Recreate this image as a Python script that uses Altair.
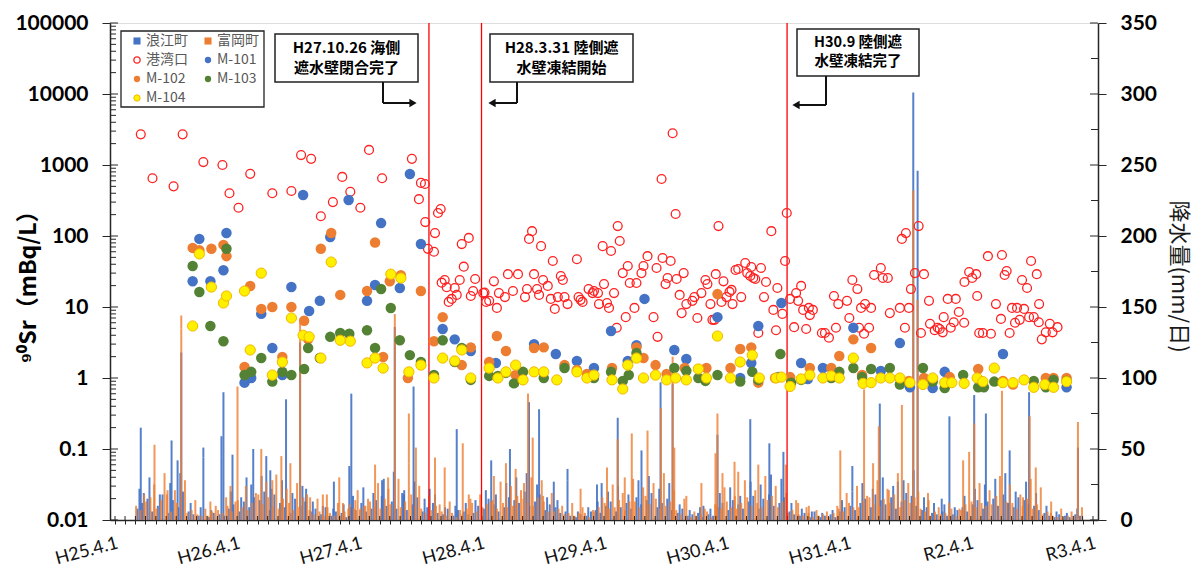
import altair as alt
import pandas as pd

# ---------------- tick labels / categories ----------------
x_tick_labels = ["H25.4.1", "H26.4.1", "H27.4.1", "H28.4.1", "H29.4.1",
                 "H30.4.1", "H31.4.1", "R2.4.1", "R3.4.1"]
y_tick_values = [0.01, 0.1, 1, 10, 100, 1000, 10000, 100000]
y_tick_labels = ["0.01", "0.1", "1", "10", "100", "1000", "10000", "100000"]
rain_tick_values = [0, 50, 100, 150, 200, 250, 300, 350]
series_names = ["浪江町", "富岡町", "港湾口", "M-101", "M-102", "M-103", "M-104"]
event_dates = ["2015-10-26", "2016-03-31", "2018-09-30"]
event_texts = [["H27.10.26 海側", "遮水壁閉合完了"],
               ["H28.3.31 陸側遮", "水壁凍結開始"],
               ["H30.9 陸側遮", "水壁凍結完了"]]

# ---------------- 90Sr (mBq/L) ----------------
harbor = [
    ("2013-06-17", 2700), ("2013-07-22", 650), ("2013-09-23", 500), ("2013-10-20", 2700),
    ("2013-12-21", 1100), ("2014-02-16", 1000), ("2014-03-09", 400), ("2014-04-05", 250),
    ("2014-05-10", 750), ("2014-07-15", 400), ("2014-09-10", 430), ("2014-10-09", 1380),
    ("2014-11-08", 1220), ("2014-12-07", 190), ("2015-01-12", 300), ("2015-02-09", 680),
    ("2015-03-05", 420), ("2015-04-04", 250), ("2015-04-30", 1630), ("2015-06-08", 650),
    ("2015-09-05", 1220), ("2015-09-26", 330), ("2015-10-02", 560), ("2015-10-14", 540),
    ("2015-10-15", 157), ("2015-10-23", 66), ("2015-11-10", 60), ("2015-11-13", 110),
    ("2015-11-22", 211), ("2015-11-30", 240), ("2015-12-03", 22), ("2015-12-12", 24),
    ("2015-12-18", 19), ("2015-12-24", 11.8), ("2016-01-02", 13), ("2016-01-11", 18.5),
    ("2016-01-17", 14.8), ("2016-01-26", 24), ("2016-02-01", 77), ("2016-02-07", 37),
    ("2016-02-22", 94), ("2016-02-28", 14.3), ("2016-03-06", 16.8), ("2016-03-12", 24.8),
    ("2016-04-05", 15.7), ("2016-04-09", 16), ("2016-04-14", 11.8), ("2016-04-23", 12.2),
    ("2016-05-07", 23), ("2016-05-16", 9.7), ("2016-05-22", 15.7), ("2016-06-09", 13.8),
    ("2016-06-18", 29), ("2016-07-03", 16.8), ("2016-07-18", 29), ("2016-08-08", 13.8),
    ("2016-08-14", 17.9), ("2016-08-20", 91), ("2016-08-29", 117), ("2016-09-04", 29),
    ("2016-09-13", 17.9), ("2016-09-19", 14.8), ("2016-09-25", 72), ("2016-10-01", 24),
    ("2016-10-15", 19.8), ("2016-10-24", 13), ("2016-10-30", 44.5), ("2016-11-05", 9.4),
    ("2016-11-14", 13.8), ("2016-11-23", 27.3), ("2016-11-29", 24), ("2016-12-04", 13.8),
    ("2016-12-13", 11), ("2017-01-10", 47), ("2017-01-15", 13.8), ("2017-01-21", 12.6),
    ("2017-01-27", 11.8), ("2017-02-14", 17.9), ("2017-02-26", 15.7), ("2017-03-02", 16.8),
    ("2017-03-14", 15.7), ("2017-03-17", 11), ("2017-03-28", 72), ("2017-04-01", 21),
    ("2017-04-10", 11.4), ("2017-04-16", 9.7), ("2017-04-22", 61.5), ("2017-05-01", 15.7),
    ("2017-05-09", 5.1), ("2017-05-12", 138), ("2017-05-18", 85), ("2017-05-27", 30),
    ("2017-06-05", 7.2), ("2017-06-11", 37.8), ("2017-06-17", 21.8), ("2017-07-01", 9.7),
    ("2017-07-07", 21.8), ("2017-07-22", 30), ("2017-07-28", 37.8), ("2017-08-09", 52),
    ("2017-08-27", 7.2), ("2017-09-05", 35.4), ("2017-09-08", 3.8), ("2017-09-20", 635),
    ("2017-09-23", 49), ("2017-10-02", 21), ("2017-10-08", 25.6), ("2017-10-17", 44.5),
    ("2017-10-23", 2800), ("2017-11-01", 204), ("2017-11-04", 24.8), ("2017-11-13", 14.8),
    ("2017-11-19", 8.2), ("2017-11-25", 30), ("2017-12-03", 11), ("2017-12-21", 12.2),
    ("2017-12-27", 13.8), ("2018-01-05", 7), ("2018-01-17", 15.7), ("2018-01-29", 24),
    ("2018-02-04", 21), ("2018-02-13", 11), ("2018-02-19", 6.6), ("2018-02-25", 6.6),
    ("2018-03-01", 29), ("2018-03-09", 138), ("2018-03-18", 11.8), ("2018-03-24", 23),
    ("2018-04-02", 13.8), ("2018-04-11", 16.3), ("2018-04-17", 17.4), ("2018-04-20", 11),
    ("2018-04-29", 33.2), ("2018-05-07", 34.3), ("2018-05-16", 13.8), ("2018-05-28", 41.7),
    ("2018-06-03", 30), ("2018-06-12", 27.3), ("2018-06-15", 36.6), ("2018-06-21", 25.6),
    ("2018-06-27", 24.8), ("2018-07-06", 4.3), ("2018-07-14", 35.4), ("2018-07-23", 13.8),
    ("2018-07-29", 22.5), ("2018-08-14", 117), ("2018-08-20", 9.1), ("2018-08-28", 4.7),
    ("2018-09-01", 18.5), ("2018-09-16", 8), ("2018-09-24", 44.5), ("2018-09-29", 211),
    ("2018-10-09", 13), ("2018-10-21", 5.2), ("2018-10-27", 15.7), ("2018-11-02", 12.2),
    ("2018-11-11", 19.8), ("2018-11-17", 9.1), ("2018-11-26", 4.9), ("2018-12-04", 9.7),
    ("2018-12-07", 7.7), ("2018-12-16", 9.1), ("2019-01-12", 4.3), ("2019-01-21", 4.3),
    ("2019-02-02", 3.7), ("2019-02-17", 14.3), ("2019-02-23", 5.1), ("2019-03-02", 11),
    ("2019-03-28", 12.2), ("2019-04-04", 7), ("2019-04-13", 24), ("2019-04-28", 17.9),
    ("2019-05-03", 5.1), ("2019-05-09", 9.7), ("2019-05-18", 4.2), ("2019-05-21", 11),
    ("2019-06-02", 5.1), ("2019-06-08", 9.7), ("2019-06-17", 28.2), ("2019-07-07", 35.4),
    ("2019-07-13", 25.6), ("2019-07-28", 25.6), ("2019-08-03", 8.2), ("2019-09-02", 9.7),
    ("2019-09-08", 91), ("2019-09-17", 5.1), ("2019-09-20", 110), ("2019-09-29", 9.7),
    ("2019-10-05", 17.9), ("2019-10-17", 30), ("2019-10-28", 138), ("2019-11-04", 4.3),
    ("2019-11-13", 29), ("2019-11-28", 12.2), ("2019-12-01", 5.8), ("2019-12-15", 4.7),
    ("2019-12-24", 5.1), ("2019-12-30", 4.9), ("2020-01-08", 4.4), ("2020-01-11", 7.2),
    ("2020-01-23", 13), ("2020-02-01", 5.1), ("2020-02-10", 6.1), ("2020-02-16", 13),
    ("2020-02-25", 8.5), ("2020-03-12", 6), ("2020-03-13", 22.5), ("2020-03-27", 31.1),
    ("2020-04-05", 25.6), ("2020-04-17", 29), ("2020-04-20", 14.3), ("2020-04-26", 4.3),
    ("2020-05-07", 4.3), ("2020-05-22", 52), ("2020-05-31", 4.2), ("2020-06-15", 11),
    ("2020-06-30", 6.8), ("2020-07-03", 54), ("2020-07-11", 28.2), ("2020-07-17", 32.1),
    ("2020-07-26", 4.3), ("2020-08-02", 9.7), ("2020-08-11", 6), ("2020-08-17", 9.7),
    ("2020-08-25", 6.6), ("2020-09-01", 24), ("2020-09-07", 9.4), ("2020-09-16", 18.5),
    ("2020-09-22", 7.2), ("2020-09-28", 44.5), ("2020-10-06", 7.2), ("2020-10-15", 29),
    ("2020-10-21", 6.1), ("2020-10-22", 11), ("2020-10-30", 3.5), ("2020-11-11", 4.4),
    ("2020-11-23", 5.8), ("2020-12-01", 4.4), ("2020-12-16", 5.2),
]

m101 = [
    ("2013-11-19", 23), ("2013-12-09", 91), ("2014-01-11", 23), ("2014-02-19", 33),
    ("2014-02-28", 110), ("2014-04-23", 0.86), ("2014-05-13", 1.0), ("2014-06-12", 8),
    ("2014-07-15", 2.65), ("2014-08-14", 1.1), ("2014-09-10", 19.1), ("2014-10-15", 378),
    ("2014-11-02", 8.8), ("2014-12-04", 12.2), ("2015-01-04", 97), ("2015-02-28", 321),
    ("2015-04-24", 12.2), ("2015-05-18", 20.4), ("2015-06-05", 152), ("2015-07-31", 18.5),
    ("2015-08-30", 747), ("2015-10-02", 77), ("2015-12-06", 4.9), ("2016-01-11", 3.5),
    ("2016-02-28", 2.4), ("2016-05-13", 1.63), ("2016-09-04", 3.0), ("2016-11-08", 2.18),
    ("2017-01-10", 1.74), ("2017-03-02", 1.38), ("2017-04-22", 4.6), ("2017-06-11", 1.74),
    ("2017-07-07", 2.9), ("2017-07-31", 13), ("2017-10-28", 2.48), ("2017-12-03", 1.85),
    ("2018-03-06", 7.2), ("2018-05-13", 1.0), ("2018-06-15", 1.63), ("2018-07-06", 5.4),
    ("2018-09-04", 1.03), ("2018-09-13", 11.4), ("2018-11-11", 1.63), ("2018-12-01", 0.97),
    ("2019-01-15", 1.38), ("2019-04-16", 5.1), ("2019-07-07", 1.26), ("2019-09-02", 3.1),
    ("2019-10-02", 0.74), ("2019-12-09", 0.72), ("2020-01-14", 1.22), ("2020-07-06", 2.18),
    ("2021-01-12", 0.74),
]

m102 = [
    ("2013-11-19", 68), ("2013-12-09", 63), ("2014-01-14", 66), ("2014-02-19", 75),
    ("2014-02-28", 52), ("2014-04-23", 1.43), ("2014-05-10", 19.8), ("2014-06-12", 9.4),
    ("2014-07-15", 10), ("2014-08-14", 1.98), ("2014-09-10", 10), ("2014-10-18", 6.4),
    ("2014-10-30", 3.5), ("2014-12-07", 66), ("2015-01-07", 110), ("2015-02-03", 14.8),
    ("2015-04-24", 16.8), ("2015-05-18", 81), ("2015-06-11", 1.98), ("2015-07-01", 23),
    ("2015-08-03", 28), ("2015-08-24", 1.0), ("2015-10-02", 16.8), ("2015-11-10", 3.3),
    ("2015-12-06", 7.2), ("2016-02-01", 1.52), ("2016-02-28", 2.7), ("2016-04-23", 1.68),
    ("2016-05-16", 3.9), ("2016-06-12", 2.4), ("2016-07-11", 1.1), ("2016-09-04", 2.65),
    ("2016-10-03", 2.7), ("2016-12-04", 1.52), ("2017-01-10", 1.3), ("2017-02-09", 1.14),
    ("2017-04-25", 1.38), ("2017-07-07", 2.7), ("2017-07-28", 1.91), ("2017-09-02", 1.52),
    ("2017-10-05", 1.14), ("2017-11-28", 1.38), ("2018-02-01", 1.38), ("2018-03-06", 15.2),
    ("2018-04-14", 1.38), ("2018-05-13", 2.56), ("2018-06-15", 2.7), ("2018-07-06", 0.86),
    ("2018-08-25", 1.0), ("2018-10-09", 1.03), ("2018-12-07", 1.38), ("2019-02-09", 1.38),
    ("2019-03-05", 2.04), ("2019-04-16", 3.5), ("2019-05-12", 1.1), ("2019-06-08", 2.65),
    ("2019-09-29", 0.91), ("2019-11-13", 1.0), ("2020-01-29", 1.03), ("2020-04-23", 1.34),
    ("2020-07-06", 0.91), ("2020-08-05", 0.81), ("2020-11-11", 1.0), ("2020-12-04", 1.0),
    ("2021-01-12", 1.0),
]

m103 = [
    ("2013-11-19", 37.8), ("2013-12-09", 16.3), ("2014-01-11", 5.4), ("2014-02-19", 3.3),
    ("2014-02-28", 66), ("2014-04-23", 1.1), ("2014-05-13", 1.22), ("2014-06-12", 1.91),
    ("2014-07-15", 0.89), ("2014-08-14", 1.22), ("2014-09-10", 1.1), ("2014-10-18", 1.34),
    ("2014-10-30", 2.65), ("2014-12-04", 1.91), ("2015-01-04", 3.8), ("2015-02-03", 4.3),
    ("2015-03-02", 4.2), ("2015-04-24", 4.7), ("2015-05-18", 2.65), ("2015-06-05", 17.9),
    ("2015-07-04", 9.7), ("2015-07-31", 3.4), ("2015-08-30", 2.1), ("2015-10-02", 1.68),
    ("2015-11-10", 1.1), ("2015-12-06", 3.4), ("2016-01-11", 1.68), ("2016-02-01", 2.65),
    ("2016-02-28", 0.94), ("2016-04-23", 1.07), ("2016-05-19", 1.07), ("2016-06-12", 1.18),
    ("2016-07-06", 0.84), ("2016-08-02", 1.22), ("2016-10-03", 1.0), ("2016-12-04", 1.38),
    ("2017-03-02", 1.0), ("2017-04-22", 1.22), ("2017-05-27", 0.91), ("2017-06-14", 1.1),
    ("2017-07-07", 2.25), ("2017-10-28", 1.38), ("2017-12-03", 1.26), ("2018-01-08", 1.0),
    ("2018-01-29", 0.91), ("2018-03-06", 1.1), ("2018-05-13", 0.89), ("2018-06-18", 1.22),
    ("2018-07-06", 0.94), ("2018-09-10", 2.18), ("2018-10-12", 0.86), ("2018-11-11", 0.94),
    ("2019-02-09", 1.0), ("2019-03-05", 1.22), ("2019-04-16", 1.38), ("2019-05-12", 1.03),
    ("2019-06-08", 1.34), ("2019-08-03", 1.38), ("2019-09-02", 0.81), ("2019-11-10", 1.38),
    ("2019-12-09", 0.89), ("2020-01-14", 0.72), ("2020-03-09", 1.1), ("2020-04-23", 0.74),
    ("2020-05-10", 0.74), ("2020-06-10", 0.89), ("2020-10-06", 0.91), ("2020-11-11", 0.74),
    ("2020-12-04", 0.94), ("2021-01-12", 0.91),
]

m104 = [
    ("2013-11-19", 5.4), ("2013-12-09", 56), ("2014-01-14", 19.1), ("2014-02-19", 11.4),
    ("2014-02-28", 14.3), ("2014-04-23", 16.8), ("2014-05-10", 2.48), ("2014-06-12", 30),
    ("2014-07-15", 1.1), ("2014-08-14", 1.68), ("2014-09-10", 7), ("2014-10-15", 4.0),
    ("2014-11-02", 3.8), ("2014-12-07", 1.91), ("2015-01-07", 43), ("2015-02-03", 3.4),
    ("2015-03-05", 3.3), ("2015-04-24", 1.63), ("2015-05-18", 1.91), ("2015-06-11", 1.38),
    ("2015-07-04", 29), ("2015-08-03", 25.6), ("2015-08-27", 1.22), ("2015-10-02", 1.52),
    ("2015-11-10", 1.0), ("2015-12-06", 1.91), ("2016-01-11", 1.74), ("2016-02-01", 2.48),
    ("2016-02-28", 1.0), ("2016-04-23", 1.38), ("2016-05-19", 1.0), ("2016-06-12", 1.22),
    ("2016-07-11", 1.52), ("2016-08-02", 0.94), ("2016-09-04", 1.22), ("2016-10-03", 1.22),
    ("2016-11-11", 0.94), ("2017-01-10", 1.22), ("2017-02-09", 1.0), ("2017-03-02", 1.1),
    ("2017-04-25", 0.94), ("2017-05-27", 0.70), ("2017-06-11", 1.52), ("2017-07-07", 1.91),
    ("2017-07-28", 1.0), ("2017-09-02", 1.1), ("2017-10-05", 0.94), ("2017-11-01", 1.0),
    ("2017-12-03", 0.94), ("2018-01-08", 1.34), ("2018-02-01", 1.0), ("2018-03-06", 3.9),
    ("2018-04-14", 1.0), ("2018-05-13", 1.68), ("2018-06-18", 2.1), ("2018-07-09", 1.0),
    ("2018-08-28", 1.0), ("2018-09-13", 1.03), ("2018-10-09", 0.76), ("2018-11-11", 0.97),
    ("2018-12-07", 1.1), ("2019-01-15", 1.0), ("2019-02-09", 1.07), ("2019-03-05", 1.0),
    ("2019-04-16", 1.91), ("2019-05-15", 0.84), ("2019-06-08", 0.86), ("2019-07-07", 1.0),
    ("2019-08-03", 1.0), ("2019-09-02", 1.0), ("2019-10-02", 0.86), ("2019-11-10", 0.81),
    ("2019-12-09", 1.0), ("2020-01-14", 0.86), ("2020-02-04", 0.86), ("2020-03-12", 0.84),
    ("2020-04-20", 1.0), ("2020-05-07", 0.89), ("2020-06-10", 1.38), ("2020-07-06", 0.86),
    ("2020-08-05", 0.86), ("2020-09-07", 0.94), ("2020-10-06", 0.74), ("2020-11-08", 0.81),
    ("2020-12-04", 0.74), ("2021-01-12", 0.89),
]

# ---------------- precipitation (mm/day) ----------------
namie_peaks = [
    ("2013-06-17", 65), ("2013-06-26", 19), ("2013-09-17", 56), ("2013-10-05", 42),
    ("2013-10-16", 118), ("2013-12-21", 44), ("2014-02-13", 45), ("2014-02-19", 90),
    ("2014-03-18", 46), ("2014-04-29", 30), ("2014-05-19", 50), ("2014-06-27", 45),
    ("2014-07-09", 35), ("2014-08-25", 85), ("2014-10-06", 125), ("2014-10-24", 22),
    ("2015-01-15", 27), ("2015-03-02", 38), ("2015-03-08", 89), ("2015-06-08", 28),
    ("2015-07-16", 136), ("2015-08-12", 18), ("2015-09-10", 94), ("2015-10-28", 22),
    ("2016-01-17", 64), ("2016-04-29", 42), ("2016-06-24", 50), ("2016-08-20", 83),
    ("2016-09-19", 78), ("2016-11-02", 27), ("2016-12-13", 28), ("2017-03-11", 25),
    ("2017-03-25", 26), ("2017-05-12", 72), ("2017-07-22", 49), ("2017-09-17", 97),
    ("2017-10-23", 96), ("2018-01-23", 10), ("2018-03-06", 60), ("2018-06-12", 71),
    ("2018-08-08", 54), ("2018-09-19", 48), ("2019-04-13", 20), ("2019-07-04", 82),
    ("2019-08-27", 27), ("2019-10-12", 301), ("2019-10-25", 246), ("2020-01-05", 15),
    ("2020-01-28", 73), ("2020-04-11", 88), ("2020-05-16", 75), ("2020-07-26", 49),
    ("2020-09-22", 90), ("2021-02-15", 51),
]
tomioka_peaks = [
    ("2013-07-28", 53), ("2013-09-05", 21), ("2013-10-16", 135), ("2014-01-11", 13),
    ("2014-03-12", 24), ("2014-04-02", 94), ("2014-06-12", 50), ("2014-07-15", 28),
    ("2014-08-11", 45), ("2014-09-07", 40), ("2014-10-06", 139), ("2014-11-05", 16),
    ("2014-12-13", 18), ("2014-12-25", 18), ("2015-01-31", 30), ("2015-02-11", 12),
    ("2015-03-20", 14), ("2015-04-04", 8), ("2015-04-19", 10), ("2015-05-18", 39),
    ("2015-06-26", 30), ("2015-07-16", 128), ("2015-08-27", 40), ("2015-09-17", 51),
    ("2015-11-13", 44), ("2015-12-12", 37), ("2016-02-04", 54), ("2016-02-22", 18),
    ("2016-05-07", 31), ("2016-06-12", 40), ("2016-07-11", 36), ("2016-08-05", 26),
    ("2016-08-17", 89), ("2016-08-31", 58), ("2016-10-01", 17), ("2017-01-21", 22),
    ("2017-04-10", 37), ("2017-05-12", 57), ("2017-06-02", 30), ("2017-06-23", 61),
    ("2017-08-09", 63), ("2017-09-18", 79), ("2017-10-23", 115), ("2017-10-28", 51),
    ("2017-12-03", 12), ("2018-01-17", 26), ("2018-02-28", 47), ("2018-03-06", 75),
    ("2018-03-21", 33), ("2018-04-26", 41), ("2018-05-07", 34), ("2018-07-06", 39),
    ("2018-09-26", 39), ("2018-11-02", 12), ("2018-12-04", 10), ("2019-03-08", 49),
    ("2019-05-18", 92), ("2019-06-14", 40), ("2019-07-01", 66), ("2019-07-31", 21),
    ("2019-09-08", 81), ("2019-10-12", 232), ("2019-10-25", 155), ("2019-11-25", 19),
    ("2020-03-09", 42), ("2020-03-27", 33), ("2020-04-11", 68), ("2020-07-03", 76),
    ("2020-09-04", 16), ("2020-09-24", 73), ("2020-10-12", 37), ("2020-11-26", 5),
    ("2021-02-15", 69),
]
# smaller rainy days, two per month from 2013-06 to 2021-02
namie_small = [
    8, 12, 15, 6, 10, 18, 5, 14, 9, 20, 6, 4, 3, 7,
    2, 5, 4, 3, 8, 11, 6, 13, 9, 16, 14, 20, 7, 18, 12, 9, 5, 15, 10, 13, 6, 8, 4, 9,
    3, 6, 5, 2, 9, 7, 12, 6, 8, 14, 17, 10, 13, 8, 19, 7, 11, 16, 6, 9, 12, 5, 4, 8,
    3, 7, 6, 4, 5, 10, 8, 15, 11, 6, 9, 16, 14, 12, 20, 10, 13, 18, 7, 11, 9, 5, 6, 3,
    2, 4, 3, 6, 7, 5, 10, 13, 6, 9, 12, 8, 16, 11, 14, 19, 9, 12, 15, 7, 5, 8, 3, 4,
    5, 2, 4, 3, 9, 12, 7, 14, 11, 8, 13, 17, 8, 15, 18, 10, 12, 16, 6, 4, 3, 5, 2, 6,
    2, 3, 4, 2, 6, 9, 10, 7, 12, 15, 9, 18, 14, 11, 16, 8, 13, 19, 17, 10, 7, 9, 5, 4,
    6, 3, 4, 7, 9, 6, 11, 14, 8, 13, 15, 10, 18, 12, 9, 16, 14, 11, 10, 7, 5, 3, 2, 4,
    3, 2, 4, 3,
]
tomioka_small = [
    10, 7, 13, 16, 8, 14, 18, 6, 12, 9, 5, 7, 4, 3,
    3, 6, 7, 5, 10, 6, 14, 9, 7, 12, 18, 11, 16, 9, 8, 15, 12, 7, 9, 16, 7, 4, 6, 3,
    5, 3, 3, 6, 11, 8, 7, 10, 13, 9, 8, 15, 11, 17, 9, 13, 18, 10, 8, 5, 7, 10, 6, 3,
    5, 2, 4, 8, 12, 6, 9, 11, 14, 8, 12, 9, 10, 17, 15, 12, 10, 16, 13, 6, 6, 8, 4, 5,
    3, 5, 5, 2, 6, 9, 12, 8, 9, 14, 7, 13, 13, 9, 17, 11, 15, 8, 10, 13, 7, 4, 5, 2,
    3, 4, 6, 2, 11, 8, 13, 9, 8, 12, 16, 10, 12, 9, 14, 17, 9, 13, 5, 7, 4, 3, 5, 2,
    3, 4, 2, 5, 8, 6, 12, 9, 9, 13, 16, 11, 10, 15, 12, 18, 9, 14, 12, 16, 8, 6, 3, 6,
    4, 5, 8, 3, 7, 11, 13, 9, 12, 10, 11, 17, 15, 13, 12, 8, 10, 15, 8, 11, 4, 6, 3, 2,
    2, 3, 3, 2,
]
# moderate rainy days, one per month from 2013-06 to 2021-02
namie_mid = [
    22, 30, 18, 26, 33, 12, 9,
    7, 14, 20, 16, 25, 31, 22, 28, 19, 24, 13, 10,
    8, 11, 17, 23, 19, 29, 34, 21, 27, 15, 18, 9,
    10, 12, 14, 21, 18, 26, 30, 33, 25, 16, 14, 8,
    6, 9, 13, 20, 24, 18, 28, 31, 22, 26, 11, 7,
    9, 8, 19, 23, 17, 27, 25, 32, 29, 12, 8, 6,
    5, 7, 14, 18, 26, 22, 30, 24, 28, 35, 16, 12,
    11, 9, 17, 22, 25, 29, 33, 20, 27, 19, 10, 6,
    5, 8,
]
tomioka_mid = [
    18, 25, 33, 21, 28, 14, 8,
    10, 16, 13, 24, 19, 27, 32, 22, 26, 18, 15, 9,
    12, 8, 21, 15, 26, 22, 29, 35, 24, 17, 11, 13,
    7, 15, 18, 13, 27, 24, 21, 30, 28, 19, 10, 12,
    9, 7, 16, 25, 19, 29, 23, 26, 33, 21, 15, 6,
    8, 11, 23, 17, 28, 21, 31, 24, 19, 14, 9, 7,
    6, 10, 19, 24, 17, 28, 22, 33, 26, 20, 14, 9,
    12, 8, 15, 26, 21, 31, 25, 18, 29, 23, 13, 8,
    6, 9,
]

# ---------------- build tables ----------------
months = pd.date_range("2013-06-01", "2021-02-01", freq="MS")

def on_days(days):
    return [(m + pd.Timedelta(days=d)).strftime("%Y-%m-%d") for m in months for d in days]

namie_rows = namie_peaks + list(zip(on_days((6, 20)), namie_small)) + list(zip(on_days((12,)), namie_mid))
tomioka_rows = tomioka_peaks + list(zip(on_days((2, 15)), tomioka_small)) + list(zip(on_days((26,)), tomioka_mid))
namie_df = pd.DataFrame(namie_rows, columns=["date", "mm"])
tomioka_df = pd.DataFrame(tomioka_rows, columns=["date", "mm"])

def sr_df(rows):
    return pd.DataFrame(rows, columns=["date", "value"])

W, H = 988, 497
C_BLUE, C_ORANGE, C_RED = "#4472C4", "#ED7D31", "#FF2020"
C_GREEN, C_YELLOW, C_YEDGE = "#548235", "#FFF000", "#F2B800"
FONT_LAT = "Lato, 'Noto Sans CJK JP', sans-serif"
FONT_JP = "'Noto Sans CJK JP', sans-serif"
AX = "#262626"

xscale = alt.Scale(type="utc", domain=[alt.DateTime(year=2013, month=4, date=1, utc=True),
                                        alt.DateTime(year=2021, month=4, date=1, utc=True)])
ylog = alt.Scale(type="log", domain=[0.01, 100000], nice=False)
yrain = alt.Scale(domain=[0, 350], nice=False, zero=True)

tick_months = pd.date_range("2013-04-01", "2021-04-01", freq="MS")
tick_ms = [int(t.value // 10**6) for t in tick_months]
xl_arr = "[" + ",".join("'%s'" % s for s in x_tick_labels) + "]"
x_label_expr = "utcmonth(datum.value) == 3 ? %s[utcyear(datum.value) - 2013] : ''" % xl_arr
yl_arr = "[" + ",".join("'%s'" % s for s in y_tick_labels) + "]"
y_label_expr = "%s[round(log(datum.value) / LN10) + 2]" % yl_arr

x_axis = alt.Axis(values=tick_ms, labelExpr=x_label_expr, labelAngle=345, labelAlign="right",
                  labelBaseline="top", labelPadding=10, labelFontSize=18, labelFont=FONT_LAT,
                  labelColor="#111", tickSize=4, tickColor=AX, domainColor=AX, domainWidth=1.5,
                  grid=False, title=None, labelOverlap=False, labelBound=False, labelFlush=False)
left_axis = alt.Axis(orient="left", values=y_tick_values, labelExpr=y_label_expr, tickSize=8,
                     labelPadding=14, labelFontSize=21, labelFontWeight="bold", labelFont=FONT_LAT,
                     labelColor="#000", domainColor=AX, domainWidth=1.5, tickColor=AX, grid=False,
                     title="⁹⁰Sr（mBq/L）", titleFont=FONT_JP, titleFontSize=23,
                     titleFontWeight="bold", titleColor="#000", titleAngle=270, titleX=-82,
                     titleY=258, titleAlign="center", titleBaseline="middle", labelOverlap=False)
right_axis = alt.Axis(orient="right", values=rain_tick_values, tickSize=8, labelPadding=14,
                      labelFontSize=21, labelFontWeight="bold", labelFont=FONT_LAT, labelColor="#000",
                      domainColor=AX, domainWidth=1.5, tickColor=AX, grid=False,
                      title="降水量(mm/日)", titleFont=FONT_JP, titleFontSize=22,
                      titleFontWeight="normal", titleColor="#1a1a1a", titleAngle=90, titleX=80,
                      titleY=253, titleAlign="center", titleBaseline="middle", labelOverlap=False)

X = alt.X("date:T", scale=xscale, axis=x_axis)

# ---------------- rain layers ----------------
bar_n = alt.Chart(namie_df).mark_bar(width=2, color=C_BLUE, opacity=0.9).encode(
    x=X, y=alt.Y("mm:Q", scale=yrain, axis=right_axis))
bar_t = alt.Chart(tomioka_df).mark_bar(width=2, color=C_ORANGE, opacity=0.8).encode(
    x=X, y=alt.Y("mm:Q", scale=yrain, axis=right_axis))
rain_major_in = alt.Chart(pd.DataFrame({"mm": rain_tick_values})).mark_rule(color=AX, strokeWidth=1).encode(
    y=alt.Y("mm:Q", scale=yrain, axis=right_axis), x=alt.value(W - 8), x2=alt.value(W))
rain_minor_in = alt.Chart(pd.DataFrame({"mm": [v + 25 for v in rain_tick_values[:-1]]})).mark_rule(
    color=AX, strokeWidth=1).encode(y=alt.Y("mm:Q", scale=yrain, axis=right_axis),
                                    x=alt.value(W - 7), x2=alt.value(W))
rain_group = alt.layer(bar_n, bar_t, rain_major_in, rain_minor_in)

# ---------------- Sr layers ----------------
YL = alt.Y("value:Q", scale=ylog, axis=left_axis)

def pts(rows, **mk):
    return alt.Chart(sr_df(rows)).mark_point(opacity=1, **mk).encode(x=X, y=YL)

p_h = pts(harbor, filled=False, color=C_RED, size=78, strokeWidth=1.3)
p1 = pts(m101, filled=True, color=C_BLUE, size=110)
p2 = pts(m102, filled=True, color=C_ORANGE, size=110)
p3 = pts(m103, filled=True, color=C_GREEN, size=110)
p4 = pts(m104, filled=True, fill=C_YELLOW, stroke=C_YEDGE, strokeWidth=1, size=105)
minor_vals = [m * 10.0 ** k for k in range(-2, 5) for m in range(2, 10)]
sr_minor_in = alt.Chart(pd.DataFrame({"value": minor_vals})).mark_rule(color=AX, strokeWidth=1).encode(
    y=YL, x=alt.value(0), x2=alt.value(6))
sr_major_in = alt.Chart(pd.DataFrame({"value": y_tick_values})).mark_rule(color=AX, strokeWidth=1).encode(
    y=YL, x=alt.value(0), x2=alt.value(8))
sr_group = alt.layer(sr_minor_in, sr_major_in, p_h, p1, p2, p3, p4)

# ---------------- decorations ----------------
x_in = alt.Chart(pd.DataFrame({"date": tick_months.strftime("%Y-%m-%d")})).mark_rule(
    color=AX, strokeWidth=1).encode(x=X, y=alt.value(H - 4), y2=alt.value(H))
red_lines = alt.Chart(pd.DataFrame({"date": event_dates})).mark_rule(color="#FF0000", strokeWidth=1.3).encode(
    x=X, y=alt.value(0), y2=alt.value(H))

one = pd.DataFrame({"k": [0]})

def rect(x1, y1, x2, y2, **kw):
    return alt.Chart(one).mark_rect(**kw).encode(x=alt.value(x1), x2=alt.value(x2),
                                                 y=alt.value(y1), y2=alt.value(y2))

def seg(x1, y1, x2, y2):
    return alt.Chart(one).mark_rule(color="#111", strokeWidth=2).encode(
        x=alt.value(x1), x2=alt.value(x2), y=alt.value(y1), y2=alt.value(y2))

def txt(x, y, s, **kw):
    return alt.Chart(one).mark_text(**kw).encode(x=alt.value(x), y=alt.value(y), text=alt.value(s))

def sym(x, y, **kw):
    return alt.Chart(one).mark_point(opacity=1, **kw).encode(x=alt.value(x), y=alt.value(y))

deco = []
# annotation boxes: (x1, y1, x2, y2, line y's, font size)
boxes = [(165, 11, 308, 59, (25, 45), 15), (380, 11, 523, 59, (25, 45), 15),
         (687, 6, 809, 53, (20, 39), 14.5)]
for (x1, y1, x2, y2, ly, fs), lines in zip(boxes, event_texts):
    deco.append(rect(x1, y1, x2, y2, fill="white", stroke="#222", strokeWidth=1.5))
    for yy, s in zip(ly, lines):
        deco.append(txt((x1 + x2) / 2, yy, s, font=FONT_JP, fontSize=fs, fontWeight="bold",
                        color="#000", align="center", baseline="middle"))
# arrows
deco += [seg(273, 59, 273, 80), seg(273, 80, 302, 80),
         sym(303, 80, shape="triangle-right", filled=True, color="#111", size=70)]
deco += [seg(407, 59, 407, 80), seg(407, 80, 383, 80),
         sym(382, 80, shape="triangle-left", filled=True, color="#111", size=70)]
deco += [seg(716, 53, 716, 82), seg(716, 82, 687, 82),
         sym(686, 82, shape="triangle-left", filled=True, color="#111", size=70)]

# legend
deco.append(rect(11, 8, 154, 84, fill="white", stroke="#222", strokeWidth=1.3))
leg_style = [
    dict(shape="square", filled=True, color=C_BLUE, size=50),
    dict(shape="square", filled=True, color=C_ORANGE, size=50),
    dict(shape="circle", filled=False, color=C_RED, size=40, strokeWidth=1.3),
    dict(shape="circle", filled=True, color=C_BLUE, size=40),
    dict(shape="circle", filled=True, color=C_ORANGE, size=40),
    dict(shape="circle", filled=True, color=C_GREEN, size=40),
    dict(shape="circle", filled=True, fill=C_YELLOW, stroke=C_YEDGE, strokeWidth=1, size=40),
]
for i, (name, st) in enumerate(zip(series_names, leg_style)):
    col, row = i % 2, i // 2
    sx = 27 + col * 71
    sy = 18 + row * 19
    deco.append(sym(sx, sy, **st))
    deco.append(txt(sx + 9, sy, name, font=FONT_JP, fontSize=14, color="#595959",
                    align="left", baseline="middle"))

chart = alt.layer(rain_group, x_in, red_lines, sr_group, *deco).resolve_scale(
    y="independent").properties(
    width=W, height=H,
    padding={"left": 102, "top": 15, "right": 98, "bottom": 52},
    autosize=alt.AutoSizeParams(type="none"),
).configure_view(stroke=AX, strokeWidth=1.5).configure(background="white")

chart.save("out.html", embed_options={"renderer": "svg", "actions": False})
